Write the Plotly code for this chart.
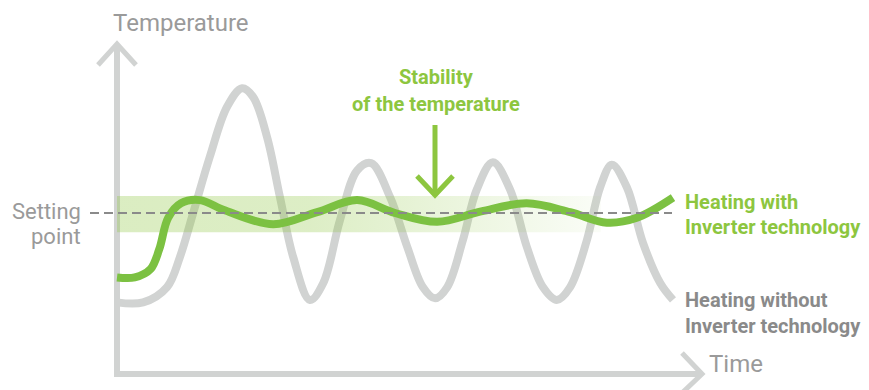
import plotly.graph_objects as go

# ---- data: time (min) and temperature (°C) ----
SETTING_POINT = 20.0
BAND_LOW, BAND_HIGH = 17.6, 22.1
BAND_END = 87.0

gray_t = [0, 4.7, 9.0, 11.3, 13.7, 16.7, 19.8, 22.5, 24.5, 27.0, 29.3, 31.7, 34.7,
          37.1, 40.1, 43.2, 45.7, 49.1, 52.2, 55.0, 57.2, 59.4, 62.2, 64.7, 67.6,
          70.7, 73.7, 76.6, 79.1, 81.5, 84.5, 86.9, 89.0, 91.7, 94.6, 97.7, 100]
gray_T = [8.9, 8.9, 10.8, 14.5, 20.0, 27.0, 33.2, 35.5, 34.4, 29.4, 22.0, 14.5, 9.2,
          11.3, 19.1, 25.3, 26.2, 22.0, 15.8, 10.8, 9.4, 10.8, 16.6, 22.9, 26.3,
          22.9, 15.8, 10.8, 9.2, 10.8, 16.6, 23.2, 26.0, 23.2, 16.3, 11.3, 9.2]

green_t = [0, 3.2, 6.0, 7.6, 9.2, 11.5, 14.9, 19.5, 28.1, 36.0, 43.2, 50.0, 57.6,
           65.5, 73.7, 81.5, 88.1, 93.5, 100]
green_T = [12.0, 12.0, 13.0, 15.5, 19.4, 21.2, 21.6, 20.3, 18.6, 20.1, 21.6, 20.0, 18.9,
           20.2, 21.2, 20.1, 18.8, 19.4, 21.9]

# ---- canvas geometry: axis origin in pixels and pixels per unit ----
W, H = 869, 390
X0, Y0 = 117.0, 374.0
XS, YS = 5.56, 8.05


def tx(px):
    return (px - X0) / XS


def ty(py):
    return (Y0 - py) / YS


GRAY = "#d1d3d2"
GREEN = "#7cc142"
TEXT_GREEN = "#8dc63f"
TEXT_GRAY = "#9a9a9a"
TEXT_DARK = "#8a8a8a"

fig = go.Figure()

# oscillating temperature without inverter
fig.add_trace(go.Scatter(x=gray_t, y=gray_T, mode="lines",
                         line=dict(color=GRAY, width=8, shape="spline", smoothing=1.0),
                         hoverinfo="skip"))

# comfort band around the setting point, fading to the right
fig.add_trace(go.Scatter(x=[0, BAND_END, BAND_END, 0, 0],
                         y=[BAND_LOW, BAND_LOW, BAND_HIGH, BAND_HIGH, BAND_LOW],
                         mode="lines", line=dict(width=0), fill="toself",
                         fillgradient=dict(type="horizontal", colorscale=[
                             [0.0, "rgba(141,198,63,0.32)"],
                             [0.4, "rgba(141,198,63,0.30)"],
                             [0.6, "rgba(141,198,63,0.22)"],
                             [0.8, "rgba(141,198,63,0.13)"],
                             [1.0, "rgba(141,198,63,0.04)"]]),
                         hoverinfo="skip"))

# stable temperature with inverter
fig.add_trace(go.Scatter(x=green_t, y=green_T, mode="lines",
                         line=dict(color=GREEN, width=8, shape="spline", smoothing=1.0),
                         hoverinfo="skip"))

# setting point reference line
fig.add_trace(go.Scatter(x=[tx(90), tx(672)], y=[SETTING_POINT, SETTING_POINT], mode="lines",
                         line=dict(color="#8a8a8a", width=2, dash="9px,5px"),
                         hoverinfo="skip"))

shapes = [
    # axes
    dict(type="path", path=f"M 0,{ty(44)} L 0,0 L {tx(702)},0",
         line=dict(color=GRAY, width=6), layer="below"),
    dict(type="path", path=f"M {tx(98)},{ty(65)} L 0,{ty(44)} L {tx(136)},{ty(65)}",
         line=dict(color=GRAY, width=5)),
    dict(type="path", path=f"M {tx(682)},{ty(353)} L {tx(702)},0 L {tx(682)},{ty(393)}",
         line=dict(color=GRAY, width=5)),
    # stability arrow
    dict(type="line", x0=tx(435), x1=tx(435), y0=ty(125), y1=ty(194),
         line=dict(color=TEXT_GREEN, width=5)),
    dict(type="path", path=f"M {tx(417)},{ty(176)} L {tx(435)},{ty(195)} L {tx(453)},{ty(176)}",
         line=dict(color=TEXT_GREEN, width=5)),
]
for s in shapes:
    s.update(xref="x", yref="y")

FONT = "Roboto"


def label(text, x, y, size, color, anchor="left", bold=False):
    return dict(text=text, x=tx(x), y=ty(y), xref="x", yref="y", showarrow=False,
                xanchor=anchor, yanchor="middle", borderpad=0,
                font=dict(family=FONT, size=size, color=color,
                          weight="bold" if bold else "normal"))


annotations = [
    label("Temperature", 112, 23, 24, TEXT_GRAY),
    label("Time", 708, 364, 24, TEXT_GRAY),
    label("Setting", 82, 211, 22, TEXT_GRAY, anchor="right"),
    label("point", 82, 236, 22, TEXT_GRAY, anchor="right"),
    label("Stability", 436, 77, 20, TEXT_GREEN, anchor="center", bold=True),
    label("of the temperature", 436, 104, 20, TEXT_GREEN, anchor="center", bold=True),
    label("Heating with", 684, 202, 20, TEXT_GREEN, bold=True),
    label("Inverter technology", 684, 227, 20, TEXT_GREEN, bold=True),
    label("Heating without", 684, 300, 20, TEXT_DARK, bold=True),
    label("Inverter technology", 684, 326, 20, TEXT_DARK, bold=True),
]

fig.update_layout(
    width=W, height=H, margin=dict(l=0, r=0, t=0, b=0),
    paper_bgcolor="white", plot_bgcolor="white", showlegend=False,
    xaxis=dict(range=[tx(0), tx(W)], visible=False, fixedrange=True),
    yaxis=dict(range=[ty(H), ty(0)], visible=False, fixedrange=True),
    shapes=shapes, annotations=annotations,
)

fig.write_html("out.html", config={"displayModeBar": False})
